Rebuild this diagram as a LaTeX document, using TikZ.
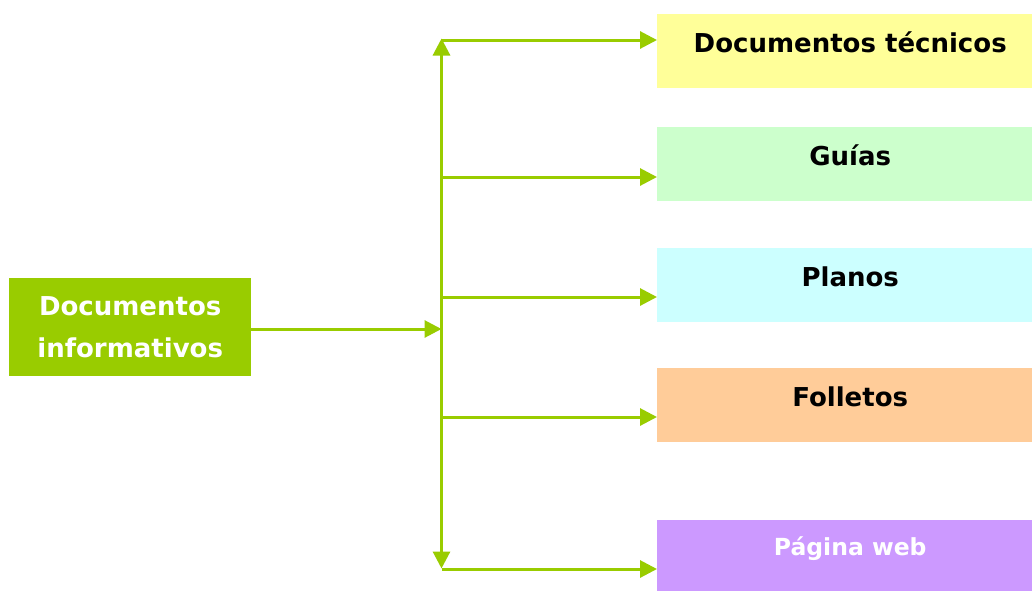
\documentclass[tikz,border=0pt]{standalone}
\usepackage{fontspec}
\setmainfont{DejaVu Sans}
\usetikzlibrary{arrows.meta}

\definecolor{lime}{HTML}{99CC00}
\definecolor{paleyellow}{HTML}{FFFF99}
\definecolor{palegreen}{HTML}{CCFFCC}
\definecolor{palecyan}{HTML}{CCFFFF}
\definecolor{paleorange}{HTML}{FFCC99}
\definecolor{palepurple}{HTML}{CC99FF}

\tikzset{
  tip/.tip={Triangle[length=17pt,width=17pt]},
  link/.style={draw=lime, line width=3pt, -tip},
  spine/.style={draw=lime, line width=3pt, tip-tip},
  source/.style={fill=lime, text=white, align=center, inner sep=0pt,
    minimum width=242pt, minimum height=98pt,
    font=\bfseries\fontsize{26}{42}\selectfont},
  target/.style={anchor=north west, inner xsep=0pt, inner ysep=0pt,
    minimum width=386pt, text height=38.5pt, text depth=35.5pt,
    font=\bfseries\fontsize{26}{31}\selectfont},
}

\begin{document}
\begin{tikzpicture}[x=1pt, y=-1pt]
  \clip (0,0) rectangle (1032,590);
  \fill[white] (0,0) rectangle (1032,590);

  % source box
  \node[source, anchor=north west] (src) at (9,278) {Documentos\\informativos};

  % target boxes
  \node[target, fill=paleyellow] (b1) at (657,14)  {Documentos técnicos};
  \node[target, fill=palegreen]  (b2) at (657,127) {Guías};
  \node[target, fill=palecyan]   (b3) at (657,248) {Planos};
  \node[target, fill=paleorange] (b4) at (657,368) {Folletos};
  \node[target, fill=palepurple, text=white, text height=35.7pt,
        text depth=46pt, font=\bfseries\fontsize{23.5}{28}\selectfont]
        (b5) at (657,520) {Página web};

  % junction points on the vertical spine
  \coordinate (top) at (441.5,38.5);
  \coordinate (bot) at (441.5,568.5);
  \coordinate (hub) at (441.5,329);
  \coordinate (j1) at (441.5,40);
  \coordinate (j2) at (441.5,177);
  \coordinate (j3) at (441.5,297);
  \coordinate (j4) at (441.5,417);
  \coordinate (j5) at (441.5,569);

  % connectors
  \draw[spine] (bot) -- (top);
  \draw[link] (src.east |- hub) -- (hub);
  \draw[link] (j1) -- (j1 -| b1.west);
  \draw[link] (j2) -- (j2 -| b2.west);
  \draw[link] (j3) -- (j3 -| b3.west);
  \draw[link] (j4) -- (j4 -| b4.west);
  \draw[link] (j5) -- (j5 -| b5.west);
\end{tikzpicture}
\end{document}
